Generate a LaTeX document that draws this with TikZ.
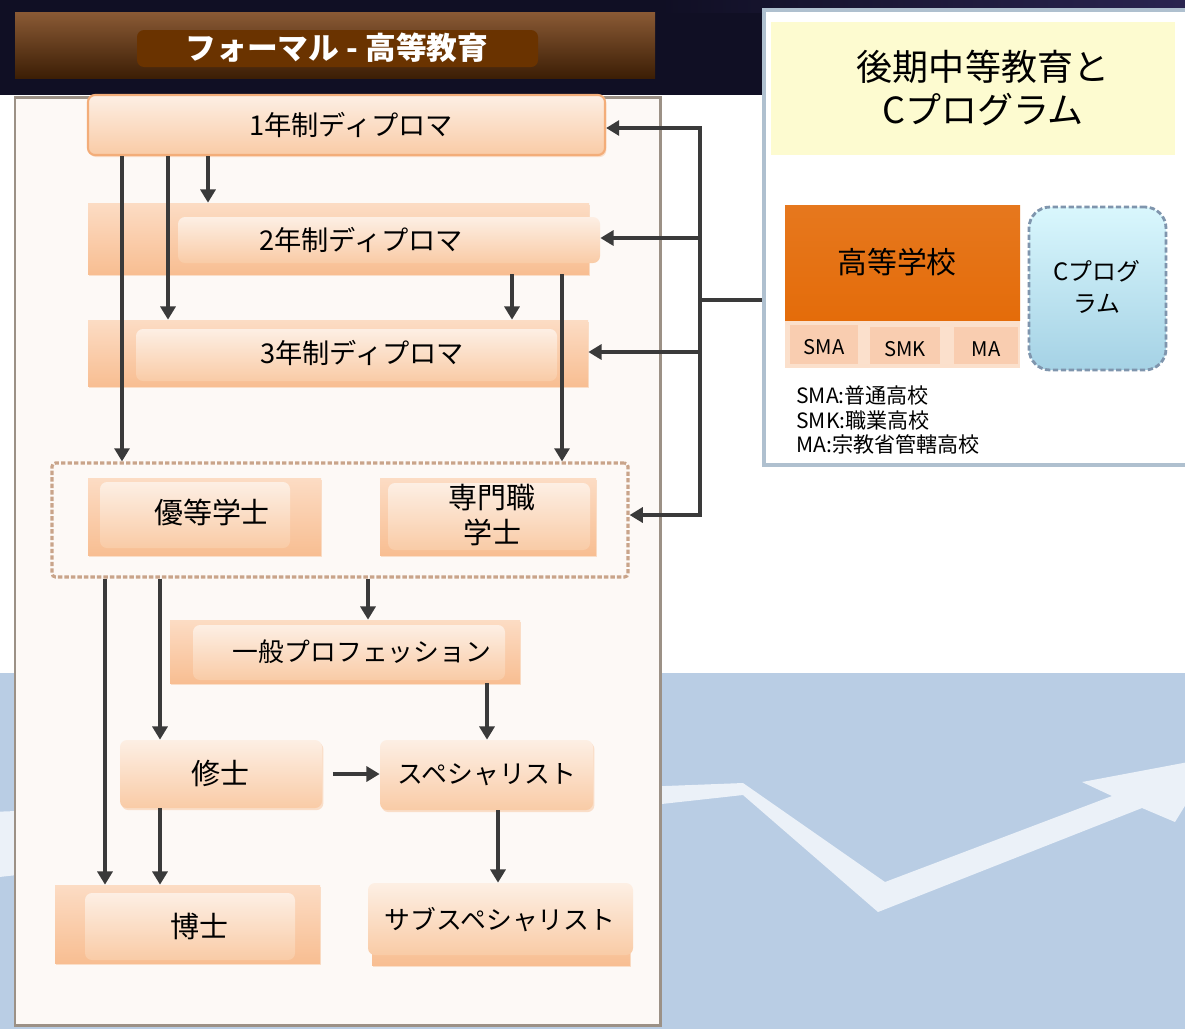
\documentclass[tikz,border=0pt]{standalone}
\usepackage{fontspec}
\setmainfont{Noto Sans CJK JP}
\usetikzlibrary{fit,arrows.meta,shadows}
\definecolor{navyc}{HTML}{100F24}
\definecolor{navyr}{HTML}{2A2450}
\definecolor{skyc}{HTML}{B9CDE4}
\definecolor{zigc}{HTML}{EBF1F8}
\definecolor{paperc}{HTML}{FDF9F6}
\definecolor{framec}{HTML}{9C9186}
\definecolor{arrc}{HTML}{3A3A3A}
\definecolor{backtop}{HTML}{FCDCC4}
\definecolor{backbot}{HTML}{F8BE92}
\definecolor{fronttop}{HTML}{FDEFE4}
\definecolor{frontbot}{HTML}{F9CBA6}
\definecolor{edgec}{HTML}{F3AD79}
\definecolor{bartop}{HTML}{8A5A35}
\definecolor{barmid}{HTML}{55300F}
\definecolor{barbot}{HTML}{3C1E05}
\definecolor{titlec}{HTML}{6A3300}
\definecolor{panelc}{HTML}{AFC0CF}
\definecolor{yellc}{HTML}{FDFBD0}
\definecolor{hsc}{HTML}{E46C0A}
\definecolor{rowc}{HTML}{FBE0CC}
\definecolor{cellc}{HTML}{F9CDB0}
\definecolor{cyantop}{HTML}{D9F7FD}
\definecolor{cyanbot}{HTML}{A5D2E5}
\definecolor{cdash}{HTML}{7F95AD}
\definecolor{grpc}{HTML}{C9A48A}
\newcommand\fnode{\fontsize{15.5}{19}\selectfont}
\newcommand\fkana{\fontsize{14.7}{18}\selectfont}
\newcommand\fkanji{\fontsize{16.5}{20.4}\selectfont}
\newcommand\fsmall{\fontsize{11.5}{14}\selectfont}
\begin{document}
\begin{tikzpicture}[x=0.02cm,y=-0.02cm,
  shd/.style={drop shadow={shadow xshift=0.8pt,shadow yshift=-1.2pt,fill=backbot,opacity=0.45}},
  backbox/.style={top color=backtop,bottom color=backbot,inner sep=0pt,shd},
  frontbox/.style={top color=fronttop,bottom color=frontbot,rounded corners=4pt,inner sep=0pt},
  txt/.style={inner sep=0pt,align=center,text=black},
  conn/.style={draw=arrc,line width=2.3pt},
  arr/.style={conn,-{Triangle[length=7.5pt,width=8.5pt]}}]
\useasboundingbox (0,0) rectangle (1185,1029);
\clip (0,0) rectangle (1185,1029);
% background
\fill[white] (0,0) rectangle (1185,1029);
\fill[navyc] (0,0) rectangle (1185,95);
\shade[left color=navyc,right color=navyr] (660,0) rectangle (1185,12);
\fill[skyc] (0,673) rectangle (1185,1029);
\fill[zigc] (-10,812) -- (743,783) -- (885,882) -- (1112,796) -- (1082,782) -- (1215,757)
  -- (1175,822) -- (1142,808) -- (878,912) -- (743,795) -- (-10,878) -- cycle;
% left main frame
\node[draw=framec,line width=1.7pt,fill=paperc,inner sep=0pt,fit={(15,97)(660,1025)}] (main) {};
\node[top color=bartop,middle color=barmid,bottom color=barbot,inner sep=0pt,fit={(15,12)(655,78)}] (tbar) {};
\node[fill=titlec,rounded corners=4pt,inner sep=0pt,fit={(137,30)(538,67)}] (tlab) {};
\node[txt,text=white,font=\fontsize{17.5}{20}\selectfont\bfseries] (tlabt) at (337,48) {フォーマル - 高等教育};
% right panel
\node[draw=panelc,line width=1.8pt,fill=white,inner sep=0pt,fit={(764,10)(1200,465)}] (rpanel) {};
\node[fill=yellc,inner sep=0pt,fit={(771,22)(1175,155)}] (rtitle) {};
\node[txt,font=\fontsize{20.5}{24.4}\selectfont] (rtitlet) at (983,88) {後期中等教育と\\Cプログラム};
\node[fill=rowc,inner sep=0pt,fit={(785,320)(1020,368)}] (hsrow) {};
\node[top color=hsc!92!white,bottom color=hsc,inner sep=0pt,fit={(785,205)(1020,320)}] (hs) {};
\node[txt,font=\fontsize{17}{20}\selectfont] (hst) at (897,262) {高等学校};
\node[fill=cellc,inner sep=0pt,fit={(790,325)(858,364)}] (sma) {};
\node[fill=cellc,inner sep=0pt,fit={(870,327)(940,364)}] (smk) {};
\node[fill=cellc,inner sep=0pt,fit={(954,327)(1018,364)}] (ma) {};
\node[txt,font=\fsmall] (smat) at (824,347) {SMA};
\node[txt,font=\fsmall] (smkt) at (905,349) {SMK};
\node[txt,font=\fsmall] (mat) at (986,349) {MA};
\node[draw=cdash,dash pattern=on 3pt off 1.5pt,line width=1.6pt,rounded corners=12pt,
  top color=cyantop,bottom color=cyanbot,inner sep=0pt,fit={(1029,207)(1166,370)}] (cprog) {};
\node[txt,font=\fontsize{13.6}{18.7}\selectfont] (cprogt) at (1097,287) {Cプログ\\ラム};
\node[anchor=west,inner sep=0pt,align=left,font=\fontsize{12}{14.2}\selectfont] (legend) at (796,420)
  {SMA:普通高校\\SMK:職業高校\\MA:宗教省管轄高校};
% diploma rows
\node[frontbox,draw=edgec,line width=1.2pt,shd,fit={(88,95)(605,155)}] (d1) {};
\node[txt,font=\fnode] (d1t) at (351,125) {1年制ディプロマ};
\node[backbox,fit={(88,203)(589,274)}] (d2) {};
\node[frontbox,fit={(178,217)(600,263)}] (d2f) {};
\node[txt,font=\fnode] (d2t) at (361,240) {2年制ディプロマ};
\node[backbox,fit={(88,320)(588,386)}] (d3) {};
\node[frontbox,fit={(136,329)(557,381)}] (d3f) {};
\node[txt,font=\fnode] (d3t) at (362,353) {3年制ディプロマ};
% bachelor group
\node[draw=grpc,dash pattern=on 2.5pt off 1.2pt,line width=1.8pt,rounded corners=2pt,
  inner sep=0pt,fit={(52,463)(628,577)}] (grp) {};
\node[backbox,fit={(88,478)(321,555)}] (hon) {};
\node[frontbox,fit={(100,482)(290,548)}] (honf) {};
\node[txt,font=\fkanji] (hont) at (212,512) {優等学士};
\node[backbox,fit={(380,478)(596,555)}] (prof) {};
\node[frontbox,fit={(388,483)(590,550)}] (proff) {};
\node[txt,font=\fontsize{16.5}{20.4}\selectfont] (proft) at (492,515) {専門職\\学士};
% lower boxes
\node[backbox,fit={(170,620)(520,683)}] (gp) {};
\node[frontbox,fit={(193,625)(505,680)}] (gpf) {};
\node[txt,font=\fkana] (gpt) at (362,652) {一般プロフェッション};
\node[frontbox,shd,fit={(120,740)(322,808)}] (ms) {};
\node[txt,font=\fkanji] (mst) at (220,773) {修士};
\node[frontbox,shd,fit={(380,740)(593,810)}] (sp) {};
\node[txt,font=\fkana] (spt) at (487,775) {スペシャリスト};
\node[backbox,fit={(55,885)(320,963)}] (dr) {};
\node[frontbox,fit={(85,893)(295,960)}] (drf) {};
\node[txt,font=\fkanji] (drt) at (199,926) {博士};
\node[backbox,fit={(372,889)(630,965)}] (ssp) {};
\node[frontbox,fit={(368,883)(633,955)}] (sspf) {};
\node[txt,font=\fkana] (sspt) at (500,920) {サブスペシャリスト};
% connectors
\draw[arr] (122,0 |- d1.south) -- (122,0 |- grp.north);
\draw[arr] (168,0 |- d1.south) -- (168,0 |- d3.north);
\draw[arr] (208,0 |- d1.south) -- (208,0 |- d2.north);
\draw[arr] (512,0 |- d2.south) -- (512,0 |- d3.north);
\draw[arr] (562,0 |- d2.south) -- (562,0 |- grp.north);
\coordinate (b1) at (700,128);
\coordinate (b2) at (700,238);
\coordinate (bm) at (700,300);
\coordinate (b3) at (700,352);
\coordinate (b4) at (700,515);
\draw[conn,line cap=rect] (b1) -- (b4);
\draw[conn] (bm) -- (bm -| rpanel.west);
\draw[arr] (b1) -- (b1 -| d1.east);
\draw[arr] (b2) -- (b2 -| d2f.east);
\draw[arr] (b3) -- (b3 -| d3.east);
\draw[arr] (b4) -- (b4 -| grp.east);
\draw[arr] (105,0 |- grp.south) -- (105,0 |- dr.north);
\draw[arr] (160,0 |- grp.south) -- (160,0 |- ms.north);
\draw[arr] (368,0 |- grp.south) -- (368,0 |- gp.north);
\draw[arr] (487,0 |- gp.south) -- (487,0 |- sp.north);
\draw[arr,shorten <=6pt] (ms.east) -- (ms.east -| sp.west);
\draw[arr] (160,0 |- ms.south) -- (160,0 |- dr.north);
\draw[arr] (498,0 |- sp.south) -- (498,0 |- sspf.north);
\end{tikzpicture}
\end{document}
